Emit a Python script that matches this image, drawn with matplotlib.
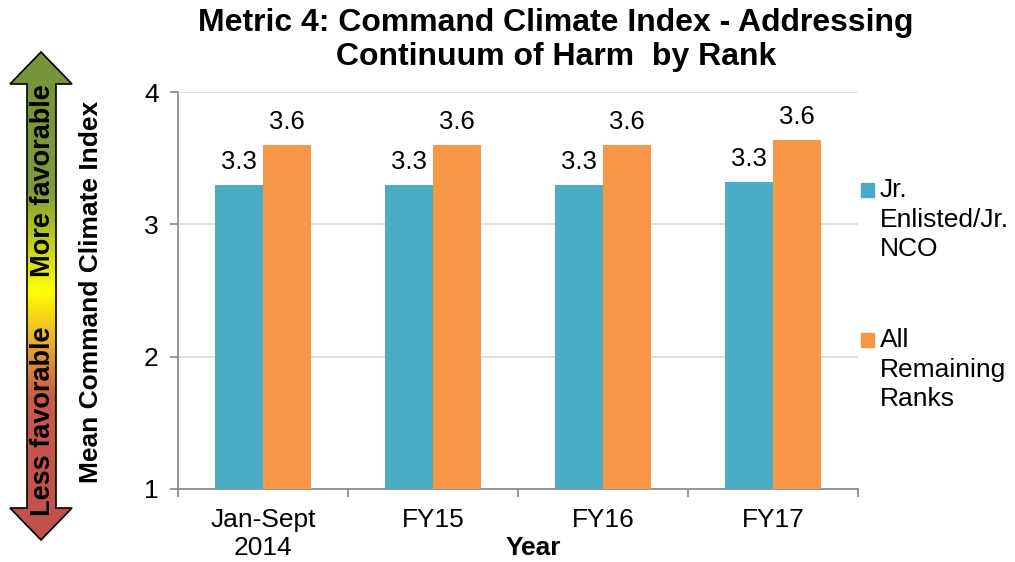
import matplotlib
matplotlib.use("Agg")
import matplotlib.pyplot as plt
import numpy as np
from matplotlib.patches import Polygon, Rectangle
from matplotlib.colors import LinearSegmentedColormap

plt.rcParams['font.family'] = ['Liberation Sans', 'DejaVu Sans']

categories = ["Jan-Sept\n2014", "FY15", "FY16", "FY17"]
jr_enlisted = [3.30, 3.30, 3.30, 3.32]
remaining = [3.60, 3.60, 3.60, 3.64]
series_names = ["Jr.\nEnlisted/Jr.\nNCO", "All\nRemaining\nRanks"]
colors = ["#4BACC6", "#F79646"]

W, H = 1015, 562
fig = plt.figure(figsize=(W / 100, H / 100), dpi=100)

# main axes, placed in pixel terms
ax = fig.add_axes([178 / W, (H - 489) / H, 680 / W, 397 / H])
x = np.arange(len(categories))
bw = 0.285
b1 = ax.bar(x - bw / 2, jr_enlisted, bw, bottom=0, color=colors[0], zorder=3)
b2 = ax.bar(x + bw / 2, remaining, bw, bottom=0, color=colors[1], zorder=3)
for bars, vals in ((b1, jr_enlisted), (b2, remaining)):
    for r, v in zip(bars, vals):
        ax.annotate(f"{v:.1f}", (r.get_x() + r.get_width() / 2, v), xytext=(0, 8),
                    textcoords="offset points", ha="center", va="bottom", fontsize=18.5)

ax.set_ylim(1, 4)
ax.set_xlim(-0.5, len(categories) - 0.5)
ax.set_yticks([1, 2, 3, 4])
ax.yaxis.grid(True, color="#D9D9D9", linewidth=1.2, zorder=0)
ax.set_axisbelow(True)
for s in ("top", "right"):
    ax.spines[s].set_visible(False)
for s in ("left", "bottom"):
    ax.spines[s].set_color("#868686")
    ax.spines[s].set_linewidth(1.2)
ax.tick_params(axis="y", length=6, color="#868686", width=1.2, labelsize=19, pad=8)
ax.set_xticks(x)
ax.set_xticklabels(categories, fontsize=19, linespacing=1.2)
ax.set_xticks(np.arange(len(categories) + 1) - 0.5, minor=True)
ax.tick_params(axis="x", which="major", length=0, pad=14)
ax.tick_params(axis="x", which="minor", length=6, color="#868686", width=1.2)
ax.set_xlabel("Year", fontsize=19, fontweight="bold")
ax.xaxis.set_label_coords(0.522, -0.118)
ax.set_ylabel("Mean Command Climate Index", fontsize=19, fontweight="bold")
ax.yaxis.set_label_coords(-0.110, 0.496)

# legend drawn by hand so the swatch sits beside the first line
ov = fig.add_axes([0, 0, 1, 1])
ov.set_xlim(0, W)
ov.set_ylim(H, 0)
ov.axis("off")
for i, (name, c) in enumerate(zip(series_names, colors)):
    y0 = 190 + i * 150
    ov.add_patch(Rectangle((861, y0 - 7), 13, 14, color=c))
    ov.text(880, y0 - 12, name, ha="left", va="top", fontsize=19, linespacing=1.3)

fig.text(556 / W, 1 - 40 / H, "Metric 4: Command Climate Index - Addressing\nContinuum of Harm  by Rank",
         ha="center", va="center", fontsize=23, fontweight="bold", linespacing=1.2)

# gradient double arrow on the left
pts = [(41, 52), (10, 84), (27, 84), (27, 508), (10, 508), (41, 540),
       (72, 508), (56, 508), (56, 84), (72, 84)]
poly = Polygon(pts, closed=True, facecolor="none", edgecolor="black", linewidth=1.2, zorder=3)
ov.add_patch(poly)
cmap = LinearSegmentedColormap.from_list(
    "fav", [(0, "#77933C"), (0.28, "#7E9A38"), (0.49, "#FFFF00"), (0.60, "#E8A82E"),
            (0.71, "#C8594A"), (1, "#C0504D")])
grad = np.linspace(0, 1, 256).reshape(-1, 1)
im = ov.imshow(grad, cmap=cmap, extent=[10, 72, 540, 52], aspect="auto", zorder=2)
clip = Polygon(pts, closed=True, transform=ov.transData)
im.set_clip_path(clip)
ov.text(43, 181, "More favorable", rotation=90, ha="center", va="center", fontsize=19.5, fontweight="bold", zorder=4)
ov.text(43, 421, "Less favorable", rotation=90, ha="center", va="center", fontsize=19.5, fontweight="bold", zorder=4)

fig.savefig("out.png", dpi=100)
